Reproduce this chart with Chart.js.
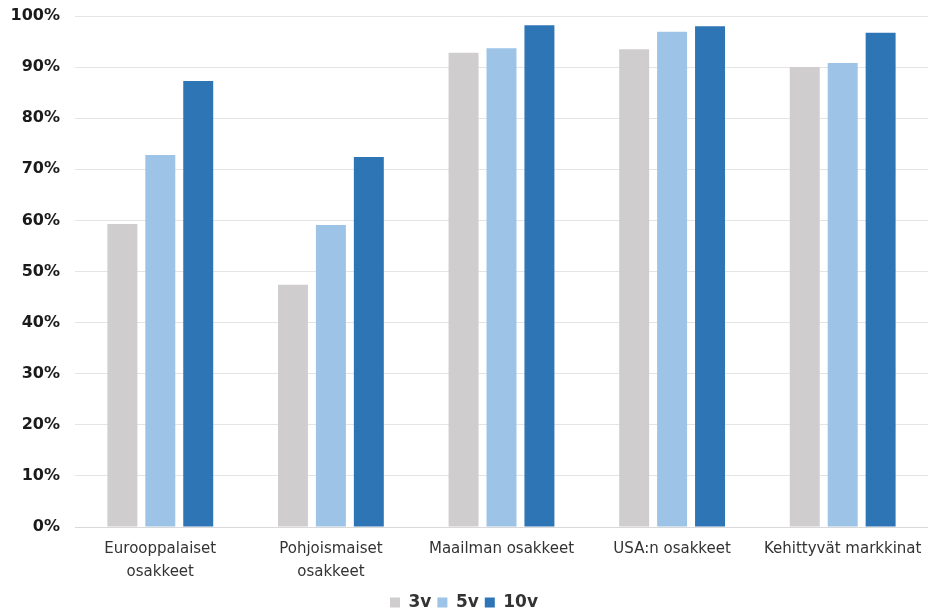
<!DOCTYPE html>
<html>
<head>
<meta charset="utf-8">
<script src="https://cdn.jsdelivr.net/npm/chart.js@4.4.1/dist/chart.umd.min.js"></script>
<style>
  html, body { margin: 0; padding: 0; background: #ffffff; overflow: hidden; }
  #wrap { width: 928px; height: 609px; }
</style>
</head>
<body>
<div id="wrap"><canvas id="c" width="928" height="609"></canvas></div>
<script>
// Categories and series (share of funds, %)
const categories = [
  ['Eurooppalaiset', 'osakkeet'],
  ['Pohjoismaiset', 'osakkeet'],
  'Maailman osakkeet',
  'USA:n osakkeet',
  'Kehittyvät markkinat'
];
const seriesNames = ['3v', '5v', '10v'];
const values3v  = [59.3, 47.4, 92.8, 93.5, 90.0];
const values5v  = [72.8, 59.1, 93.7, 96.9, 90.8];
const values10v = [87.3, 72.4, 98.2, 98.0, 96.7];
const yTicks = [0, 10, 20, 30, 40, 50, 60, 70, 80, 90, 100];

const colors = ['#cfcdcd', '#9dc3e6', '#2e75b6'];
const seriesValues = [values3v, values5v, values10v];

new Chart(document.getElementById('c'), {
  type: 'bar',
  data: {
    labels: categories,
    datasets: seriesNames.map((name, i) => ({
      label: name,
      data: seriesValues[i],
      backgroundColor: colors[i],
      borderWidth: 0,
      categoryPercentage: 0.667,
      barPercentage: 0.79
    }))
  },
  options: {
    responsive: false,
    animation: false,
    layout: { padding: { top: 16, right: 0, left: 0, bottom: -12 } },
    plugins: {
      tooltip: { enabled: false },
      legend: {
        position: 'bottom',
        labels: {
          boxWidth: 10,
          boxHeight: 10,
          padding: 6,
          color: '#333333',
          font: { family: 'DejaVu Sans', weight: 'bold', size: 17 }
        }
      }
    },
    scales: {
      y: {
        min: 0,
        max: 100,
        afterBuildTicks: (s) => { s.ticks = yTicks.map(v => ({ value: v })); },
        afterFit: (s) => { s.width = 75; s.paddingTop = 0; s.paddingBottom = 0; },
        ticks: {
          padding: 15,
          color: '#1a1a1a',
          font: { family: 'DejaVu Sans', weight: 'bold', size: 16 },
          callback: (v) => v + '%'
        },
        grid: { color: '#e4e4e4', lineWidth: 1, drawTicks: false },
        border: { display: false }
      },
      x: {
        afterFit: (s) => { s.paddingLeft = 0; s.paddingRight = 0; s.height = 61; },
        ticks: {
          padding: 3,
          maxRotation: 0,
          autoSkip: false,
          color: '#333333',
          font: { family: 'DejaVu Sans', size: 15, lineHeight: 1.5 }
        },
        grid: { display: false },
        border: { display: true, color: '#d9d9d9', width: 1 }
      }
    }
  }
});
</script>
</body>
</html>
